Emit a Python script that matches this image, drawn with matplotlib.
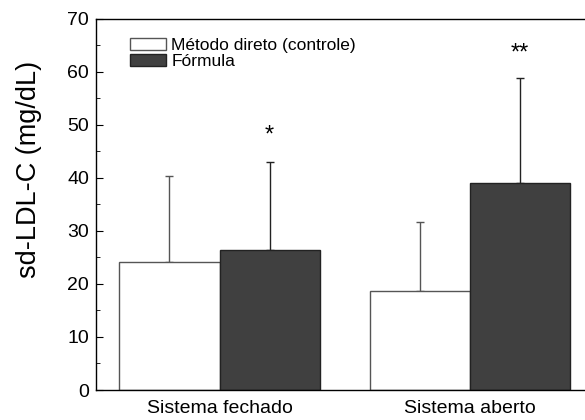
import matplotlib.pyplot as plt
import numpy as np
from matplotlib.ticker import MultipleLocator

plt.rcParams['font.family'] = ['Liberation Sans', 'DejaVu Sans']

groups = ['Sistema fechado', 'Sistema aberto']
series = ['Método direto (controle)', 'Fórmula']
direto = [24.2, 18.7]
direto_sd = [16.1, 13.0]
formula = [26.4, 39.1]
formula_sd = [16.5, 19.8]
marks = ['*', '**']
mark_y = [48.0, 63.5]

fig = plt.figure(figsize=(5.85, 4.2), dpi=100)
ax = fig.add_axes([0.164, 0.0714, 0.84, 0.884])

x = np.arange(len(groups))
w = 0.4
ax.bar(x - w / 2, direto, w, color='white', edgecolor='#555555', linewidth=1.0,
       label=series[0], zorder=2)
ax.bar(x + w / 2, formula, w, color='#404040', edgecolor='#222222', linewidth=1.0,
       label=series[1], zorder=2)
ax.errorbar(x - w / 2, direto, yerr=[np.zeros(2), direto_sd], fmt='none',
            ecolor='#555555', elinewidth=1.0, capsize=3, capthick=1.0, zorder=1)
ax.errorbar(x + w / 2, formula, yerr=[np.zeros(2), formula_sd], fmt='none',
            ecolor='#222222', elinewidth=1.0, capsize=3, capthick=1.0, zorder=1)
for xi, m, my in zip(x, marks, mark_y):
    ax.text(xi + w / 2, my, m, ha='center', va='center', fontsize=17)

ax.set_xlim(-0.494, 1.47)
ax.set_ylim(0, 70)
ax.set_xticks(x)
ax.set_xticklabels(groups, fontsize=14)
ax.tick_params(axis='x', length=0, pad=7.5)
ax.yaxis.set_major_locator(MultipleLocator(10))
ax.yaxis.set_minor_locator(MultipleLocator(5))
ax.tick_params(axis='y', which='major', direction='in', length=5, labelsize=14, pad=5)
ax.tick_params(axis='y', which='minor', direction='in', length=3)
ax.set_ylabel('sd-LDL-C (mg/dL)', fontsize=19.5)
ax.yaxis.set_label_coords(-0.11, 0.593)
ax.spines['right'].set_visible(False)
for s in ['left', 'top', 'bottom']:
    ax.spines[s].set_linewidth(1.0)

ax.legend(loc='upper left', bbox_to_anchor=(0.055, 0.968), frameon=False, fontsize=12.5,
          handlelength=2.1, handleheight=0.69, handletextpad=0.29, labelspacing=0.1,
          borderaxespad=0)

fig.savefig('out.png', dpi=100)
